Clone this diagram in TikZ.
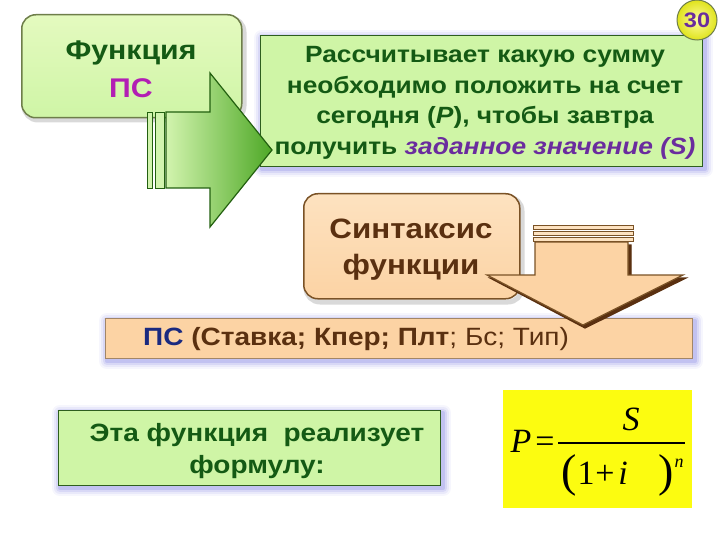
\documentclass[tikz,border=0pt]{standalone}
\usepackage{fontspec}
\setmainfont{Liberation Sans}[FakeStretch=1.12]
\newfontfamily\tms{Liberation Serif}
\definecolor{dkgreen}{HTML}{145A14}
\definecolor{boxgreen}{HTML}{CFF5A6}
\definecolor{boxgreenhi}{HTML}{E4FABF}
\definecolor{bordergreen}{HTML}{2E5E1E}
\definecolor{olivebd}{HTML}{6E7E4A}
\definecolor{magentat}{HTML}{B21EB4}
\definecolor{purplet}{HTML}{6A2C9E}
\definecolor{glow}{HTML}{6A6AE0}
\definecolor{peach}{HTML}{FCD3A4}
\definecolor{peachhi}{HTML}{FDE2C0}
\definecolor{brownbd}{HTML}{7A5226}
\definecolor{brownt}{HTML}{5A3010}
\definecolor{bluet}{HTML}{1A2A80}
\definecolor{argreenL}{HTML}{D2F4AE}
\definecolor{argreenR}{HTML}{4EA826}
\definecolor{arbd}{HTML}{236010}
\definecolor{yel}{HTML}{FCFC10}
\tikzset{
  glowrect/.style={draw=glow, line join=round},
  sharpbox/.style={draw=bordergreen, line width=1.2pt, fill=boxgreen},
  roundgreen/.style={draw=olivebd, line width=1.5pt, rounded corners=14pt, top color=boxgreenhi, bottom color=boxgreen},
  roundpeach/.style={draw=brownbd, line width=1.5pt, rounded corners=14pt, top color=peachhi, bottom color=peach},
  greenarrow/.style={draw=arbd, line width=1.2pt, left color=argreenL, right color=argreenR, line join=miter},
  greenstripe/.style={draw=arbd, line width=0.9pt, fill=argreenL},
  peacharrow/.style={draw=brownbd, line width=1.2pt, fill=peach, line join=miter},
  peachstripe/.style={draw=brownbd, line width=0.9pt, fill=peachhi},
  txt/.style={inner sep=0pt, align=center},
  ftxt/.style={anchor=base, inner sep=0pt, font=\tms\fontsize{34}{34}\selectfont},
}
\begin{document}
\begin{tikzpicture}[x=1pt,y=-1pt]
\fill[white] (0,0) rectangle (720,540);
\useasboundingbox (0,0) rectangle (720,540);

% ---- big description box with glow
\foreach \w/\o in {16/0.06,12/0.09,8/0.13,4/0.2}{
  \draw[glowrect, line width=\w pt, opacity=\o] (262,38) rectangle (705,169);
}
\node[sharpbox, minimum width=442pt, minimum height=131pt, anchor=north west] (desc) at (260,35) {};
\node[txt, text=dkgreen, font=\bfseries\fontsize{23.5}{30.7}\selectfont] (desctext) at (485,103)
  {Рассчитывает какую сумму\\ необходимо положить на счет\\ сегодня (\textit{P}), чтобы завтра\\
   получить \textcolor{purplet}{\textit{заданное значение (S)}}};

% ---- number circle
\node[circle, draw=olivebd, line width=1pt, inner color=yel!40!white, outer color=yel!80!olivebd, minimum size=40pt, inner sep=0pt,
  text=purplet, font=\bfseries\fontsize{21}{21}\selectfont] (num) at (697,20) {30};

% ---- function PS box
\draw[line width=5pt, draw=black, opacity=0.15, rounded corners=14pt] (24,18) rectangle (244,120);
\node[roundgreen, minimum width=220pt, minimum height=103pt, anchor=north west] (fps) at (21,14) {};
\node[txt, text=dkgreen, font=\bfseries\fontsize{27}{38}\selectfont] (fpstext) at (131,69)
  {Функция\\ \textcolor{magentat}{ПС}};

% ---- green arrow
\node[greenstripe, minimum width=5pt, minimum height=76pt, inner sep=0pt] (gs1) at (149.5,150) {};
\node[greenstripe, minimum width=9pt, minimum height=76pt, inner sep=0pt] (gs2) at (159.5,150) {};
\draw[greenarrow] (166,112) -- (210,112) -- (210,73) -- (272,150) -- (210,227) -- (210,188) -- (166,188) -- cycle;
\coordinate (gtip) at (272,150);

% ---- syntax box
\draw[line width=5pt, draw=black, opacity=0.15, rounded corners=14pt] (306,197) rectangle (522,302);
\node[roundpeach, minimum width=216pt, minimum height=105pt, anchor=north west] (synt) at (303,193) {};
\node[txt, text=brownt, font=\bfseries\fontsize{28}{36}\selectfont] (synttext) at (411,250)
  {Синтаксис\\ функции};

% ---- syntax bar with glow
\foreach \w/\o in {16/0.06,12/0.09,8/0.13,4/0.2}{
  \draw[glowrect, line width=\w pt, opacity=\o] (107,321) rectangle (695,361);
}
\node[draw=brownbd!70, line width=0.8pt, fill=peach, minimum width=587pt, minimum height=40pt, anchor=north west] (bar) at (105,318) {};
\node[txt, anchor=west, text=brownt, font=\fontsize{25}{26}\selectfont] (bartext) at (143,339)
  {\textbf{\textcolor{bluet}{ПС} (Ставка; Кпер; Плт}; Бс; Тип)};

% ---- down arrow
\draw[peacharrow, draw=brownt, fill=brownt] (538,245) -- (631,245) -- (631,278) -- (686,278) -- (585,328) -- (490,278) -- (538,278) -- cycle;
\draw[peacharrow] (535,242) -- (628,242) -- (628,275) -- (683,275) -- (583,325) -- (487,275) -- (535,275) -- cycle;
\node[peachstripe, minimum width=100pt, minimum height=4pt, inner sep=0pt] (ps1) at (583,227) {};
\node[peachstripe, minimum width=100pt, minimum height=4pt, inner sep=0pt] (ps2) at (583,233) {};
\node[peachstripe, minimum width=100pt, minimum height=4pt, inner sep=0pt] (ps3) at (583,239) {};

% ---- bottom green box with glow
\foreach \w/\o in {16/0.06,12/0.09,8/0.13,4/0.2}{
  \draw[glowrect, line width=\w pt, opacity=\o] (60,413) rectangle (443,488);
}
\node[draw=bordergreen, line width=1pt, fill=boxgreen, minimum width=382pt, minimum height=75pt, anchor=north west] (impl) at (58,410) {};
\node[txt, text=dkgreen, font=\bfseries\fontsize{25}{32}\selectfont] (impltext) at (257,451)
  {Эта функция\ \ реализует\\ формулу:};

% ---- formula box
\node[fill=yel, minimum width=189pt, minimum height=118pt, anchor=north west, inner sep=0pt] (fbox) at (503,390) {};
\node[ftxt] (fP) at (521,452) {\textit{P}};
\node[ftxt] (feq) at (545,452) {=};
\coordinate (fl) at (558,443);
\coordinate (fr) at (685,443);
\draw[line width=1.2pt] (fl) -- (fr);
\node[ftxt] (fS) at (631,430) {\textit{S}};
\node[ftxt, font=\tms\fontsize{46}{46}\selectfont] (fpl) at (569,486) {(};
\node[ftxt] (f1) at (586,484) {1};
\node[ftxt] (fplus) at (605,484) {+};
\node[ftxt] (fi) at (623,484) {\textit{i}};
\node[ftxt, font=\tms\fontsize{46}{46}\selectfont] (fpr) at (666,486) {)};
\node[ftxt, font=\tms\fontsize{18}{18}\selectfont] (fn) at (679,467) {\textit{n}};
\end{tikzpicture}
\end{document}
